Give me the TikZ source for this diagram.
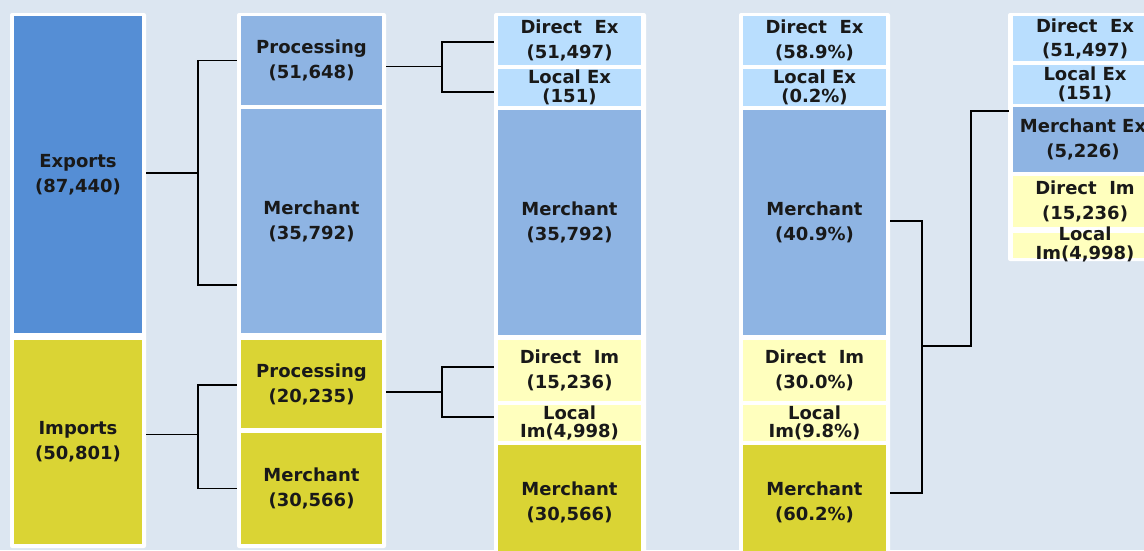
\documentclass[tikz,border=0pt]{standalone}
\usepackage{fontspec}
\setmainfont{DejaVu Sans}
\definecolor{bgblue}{RGB}{220,230,241}
\definecolor{expblue}{RGB}{85,142,213}
\definecolor{midblue}{RGB}{142,180,227}
\definecolor{lightblue}{RGB}{185,222,254}
\definecolor{olive}{RGB}{218,212,52}
\definecolor{lightyellow}{RGB}{255,255,190}
\begin{document}
\begin{tikzpicture}[x=1pt,y=-1pt,
	box/.style={rectangle, inner sep=0pt, outer xsep=4pt, outer ysep=0pt},
	txt/.style={align=center, inner sep=0pt, text=black!90, font=\bfseries\fontsize{18}{25}\selectfont},
	tight/.style={txt, font=\bfseries\fontsize{18}{18.5}\selectfont},
	frame/.style={fill=white, rounded corners=2pt},
	link/.style={black, line width=1.8pt}]
	
	\useasboundingbox (0,0) rectangle (1144,550);
	\clip (0,0) rectangle (1144,550);
	\fill[bgblue] (0,0) rectangle (1144,550);
	
	%Frames
	\fill[frame] (10,13) rectangle (146,548);
	\fill[frame] (237,13) rectangle (386,548);
	\fill[frame] (494,13) rectangle (646,560);
	\fill[frame] (739,13) rectangle (890,560);
	\fill[frame] (1008,13) rectangle (1170,261);
	
	%Nodes: totals
	\node[box, fill=expblue, minimum width=128, minimum height=317, label={[txt]center:{Exports\\(87,440)}}]	(exp)	at (78,174.5) {};
	\node[box, fill=olive, minimum width=128, minimum height=204, label={[txt]center:{Imports\\(50,801)}}]	(imp)	at (78,442) {};
	
	%Nodes: processing / merchant
	\node[box, fill=midblue, minimum width=141, minimum height=89, label={[txt]center:{Processing\\(51,648)}}]	(expproc)	at (311.5,60.5) {};
	\node[box, fill=midblue, minimum width=141, minimum height=224, label={[txt]center:{Merchant\\(35,792)}}]	(expmer)	at (311.5,221) {};
	\node[box, fill=olive, minimum width=141, minimum height=88, label={[txt]center:{Processing\\(20,235)}}]	(impproc)	at (311.5,384) {};
	\node[box, fill=olive, minimum width=141, minimum height=111, label={[txt]center:{Merchant\\(30,566)}}]	(impmer)	at (311.5,488.5) {};
	
	%Nodes: direct / local
	\node[box, fill=lightblue, minimum width=143, minimum height=49, label={[txt]center:{Direct~~Ex\\(51,497)}}]	(dex)	at (569.5,40.5) {};
	\node[box, fill=lightblue, minimum width=143, minimum height=37, label={[tight]center:{Local Ex\\(151)}}]	(lex)	at (569.5,87.5) {};
	\node[box, fill=midblue, minimum width=143, minimum height=225, label={[txt]center:{Merchant\\(35,792)}}]	(mex)	at (569.5,222.5) {};
	\node[box, fill=lightyellow, minimum width=143, minimum height=61, label={[txt]center:{Direct~~Im\\(15,236)}}]	(dim)	at (569.5,370.5) {};
	\node[box, fill=lightyellow, minimum width=143, minimum height=36, label={[tight]center:{Local\\Im(4,998)}}]	(lim)	at (569.5,423) {};
	\node[box, fill=olive, minimum width=143, minimum height=115, label={[txt]center:{Merchant\\(30,566)}}]	(mim)	at (569.5,502.5) {};
	
	%Nodes: shares
	\node[box, fill=lightblue, minimum width=143, minimum height=49, label={[txt]center:{Direct~~Ex\\(58.9\%)}}]	(pdex)	at (814.5,40.5) {};
	\node[box, fill=lightblue, minimum width=143, minimum height=37, label={[tight]center:{Local Ex\\(0.2\%)}}]	(plex)	at (814.5,87.5) {};
	\node[box, fill=midblue, minimum width=143, minimum height=225, label={[txt]center:{Merchant\\(40.9\%)}}]	(pmex)	at (814.5,222.5) {};
	\node[box, fill=lightyellow, minimum width=143, minimum height=61, label={[txt]center:{Direct~~Im\\(30.0\%)}}]	(pdim)	at (814.5,370.5) {};
	\node[box, fill=lightyellow, minimum width=143, minimum height=36, label={[tight]center:{Local\\Im(9.8\%)}}]	(plim)	at (814.5,423) {};
	\node[box, fill=olive, minimum width=143, minimum height=115, label={[txt]center:{Merchant\\(60.2\%)}}]	(pmim)	at (814.5,502.5) {};
	
	%Nodes: regrouped
	\node[box, fill=lightblue, minimum width=144, minimum height=45, label={[txt, font=\bfseries\fontsize{18}{24}\selectfont]center:{Direct~~Ex\\(51,497)}}]	(sdex)	at (1085,38.5) {};
	\node[box, fill=lightblue, minimum width=144, minimum height=39, label={[tight]center:{Local Ex\\(151)}}]	(slex)	at (1085,84.5) {};
	\node[box, fill=midblue, minimum width=144, minimum height=65, label={[txt, xshift=-2pt]center:{Merchant Ex\\(5,226)}}]	(smex)	at (1085,139.5) {};
	\node[box, fill=lightyellow, minimum width=144, minimum height=51, label={[txt]center:{Direct~~Im\\(15,236)}}]	(sdim)	at (1085,201.5) {};
	\node[box, fill=lightyellow, minimum width=144, minimum height=25, label={[tight, yshift=1pt]center:{Local\\Im(4,998)}}]	(slim)	at (1085,245.5) {};
	
	%Lines
	\draw[link] ([yshift=1.5pt]exp.east) -- ++(52,0) |- (expproc.west);
	\draw[link] ([yshift=1.5pt]exp.east) -- ++(52,0) |- ([yshift=-64pt]expmer.west);
	\draw[link] ([yshift=7.5pt]imp.east) -- ++(52,0) |- ([yshift=-1pt]impproc.west);
	\draw[link] ([yshift=7.5pt]imp.east) -- ++(52,0) |- (impmer.west);
	\draw[link] ([yshift=-6pt]expproc.east) -- ++(56,0) |- ([yshift=-1.5pt]dex.west);
	\draw[link] ([yshift=-6pt]expproc.east) -- ++(56,0) |- ([yshift=-4.5pt]lex.west);
	\draw[link] ([yshift=-8pt]impproc.east) -- ++(56,0) |- ([yshift=3.5pt]dim.west);
	\draw[link] ([yshift=-8pt]impproc.east) -- ++(56,0) |- ([yshift=6pt]lim.west);
	\coordinate (join) at (922,346);
	\draw[link] ([yshift=1.5pt]pmex.east) -| (join);
	\draw[link] ([yshift=9.5pt]pmim.east) -| (join);
	\draw[link] (join) -- ++(49,0) |- ([yshift=28.5pt]smex.west);
\end{tikzpicture}
\end{document}
